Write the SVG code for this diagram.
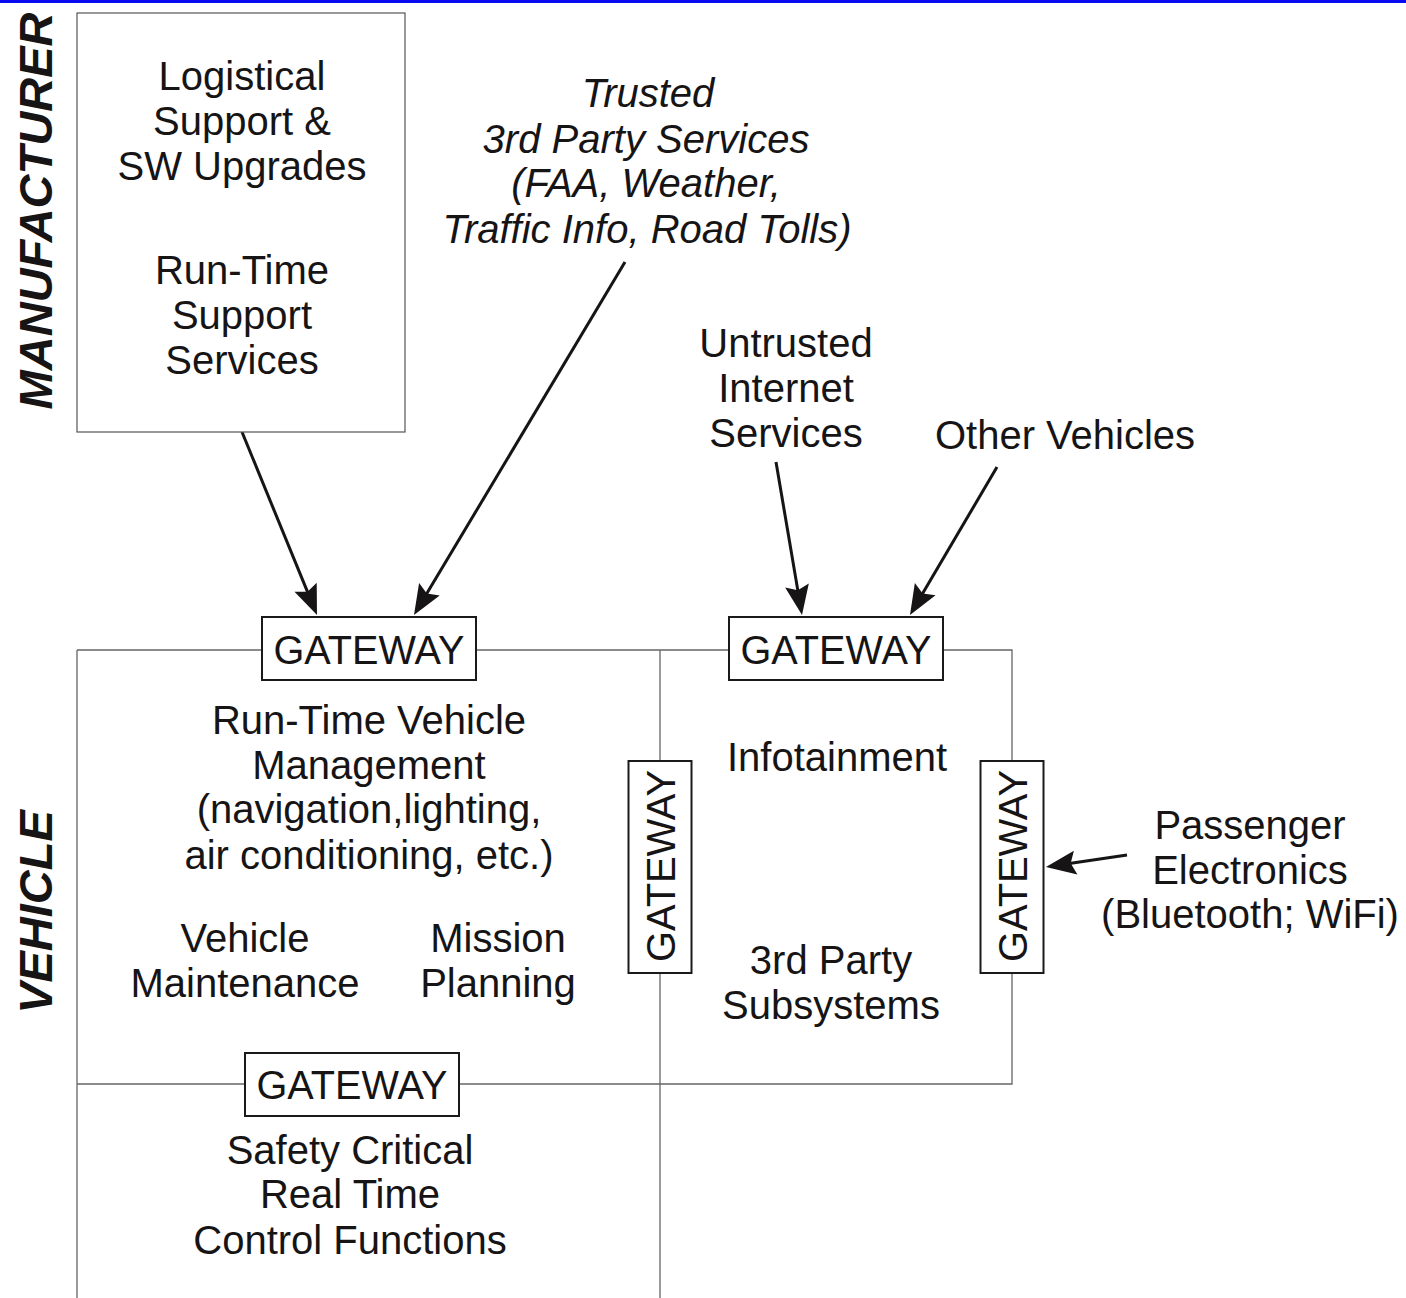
<svg xmlns="http://www.w3.org/2000/svg" width="1406" height="1298" viewBox="0 0 1406 1298">
<defs>
<style>
text{font-family:"Liberation Sans",Arial,sans-serif;font-size:40px;fill:#161414;text-anchor:middle}
.it{font-style:italic}
.big{font-size:47px;font-weight:bold;font-style:italic}
.box{fill:#fff;stroke:#1a1a1a;stroke-width:2}
.mbox{fill:#fff;stroke:#555;stroke-width:1.2}
.ln{stroke:#666;stroke-width:1.3;fill:none}
.arr{stroke:#161414;stroke-width:3;fill:none;marker-end:url(#ah)}
</style>
<marker id="ah" markerUnits="userSpaceOnUse" markerWidth="40" markerHeight="40" refX="0" refY="0" orient="auto" overflow="visible">
<path d="M15,0 L-15,-12 L-10,0 L-15,12 Z" fill="#161414"/>
</marker>
</defs>
<rect x="0" y="0" width="1406" height="1298" fill="#fff"/>
<rect x="0" y="0" width="1406" height="3" fill="#0a0af0"/>

<g id="labels">
<text class="big" transform="translate(52,211) rotate(-90)">MANUFACTURER</text>
<text class="big" transform="translate(52,912) rotate(-90)">VEHICLE</text>
</g>

<g id="connectors">
<path class="ln" d="M77,650 H262 M476,650 H729 M943,650 H1012 V761 M1012,973 V1084 H459 M245,1084 H77 M77,650 V1298 M660,650 V761 M660,973 V1298"/>
<line class="arr" x1="242" y1="432" x2="311.3" y2="601.1"/>
<line class="arr" x1="625" y1="262" x2="421.7" y2="602.1"/>
<line class="arr" x1="776" y1="462" x2="799.5" y2="600.2"/>
<line class="arr" x1="997" y1="467" x2="917.6" y2="602.1"/>
<line class="arr" x1="1127" y1="855" x2="1060.8" y2="864.8"/>
</g>

<g id="manufacturer">
<rect class="mbox" x="77" y="13" width="328" height="419"/>
<text x="242" y="90">Logistical</text>
<text x="242" y="135">Support &amp;</text>
<text x="242" y="180">SW Upgrades</text>
<text x="242" y="284">Run-Time</text>
<text x="242" y="329">Support</text>
<text x="242" y="374">Services</text>
</g>

<g id="trusted">
<text class="it" x="648" y="107">Trusted</text>
<text class="it" x="646" y="153">3rd Party Services</text>
<text class="it" x="646" y="197">(FAA, Weather,</text>
<text class="it" x="647" y="243">Traffic Info, Road Tolls)</text>
</g>

<g id="untrusted">
<text x="786" y="357">Untrusted</text>
<text x="786" y="402">Internet</text>
<text x="786" y="447">Services</text>
</g>

<g id="other-vehicles">
<text x="1065" y="449">Other Vehicles</text>
</g>

<g id="gateway-1">
<rect class="box" x="262" y="617" width="214" height="63"/>
<text x="369" y="664" textLength="191" lengthAdjust="spacingAndGlyphs">GATEWAY</text>
</g>
<g id="gateway-2">
<rect class="box" x="729" y="617" width="214" height="63"/>
<text x="836" y="664" textLength="191" lengthAdjust="spacingAndGlyphs">GATEWAY</text>
</g>
<g id="gateway-3">
<rect class="box" x="628.5" y="761" width="63" height="212"/>
<text transform="translate(675,866) rotate(-90)" textLength="192" lengthAdjust="spacingAndGlyphs">GATEWAY</text>
</g>
<g id="gateway-4">
<rect class="box" x="980.5" y="761" width="63" height="212"/>
<text transform="translate(1027,866) rotate(-90)" textLength="192" lengthAdjust="spacingAndGlyphs">GATEWAY</text>
</g>
<g id="gateway-5">
<rect class="box" x="245" y="1053" width="214" height="63"/>
<text x="352" y="1099" textLength="191" lengthAdjust="spacingAndGlyphs">GATEWAY</text>
</g>

<g id="runtime-mgmt">
<text x="369" y="734">Run-Time Vehicle</text>
<text x="369" y="779">Management</text>
<text x="369" y="823">(navigation,lighting,</text>
<text x="369" y="869">air conditioning, etc.)</text>
</g>
<g id="vehicle-maintenance">
<text x="245" y="952">Vehicle</text>
<text x="245" y="997">Maintenance</text>
</g>
<g id="mission-planning">
<text x="498" y="952">Mission</text>
<text x="498" y="997">Planning</text>
</g>
<g id="infotainment">
<text x="837" y="771">Infotainment</text>
</g>
<g id="third-party">
<text x="831" y="974">3rd Party</text>
<text x="831" y="1019">Subsystems</text>
</g>
<g id="passenger">
<text x="1250" y="839">Passenger</text>
<text x="1250" y="884">Electronics</text>
<text x="1250" y="928">(Bluetooth; WiFi)</text>
</g>
<g id="safety">
<text x="350" y="1164">Safety Critical</text>
<text x="350" y="1208">Real Time</text>
<text x="350" y="1254">Control Functions</text>
</g>
</svg>
